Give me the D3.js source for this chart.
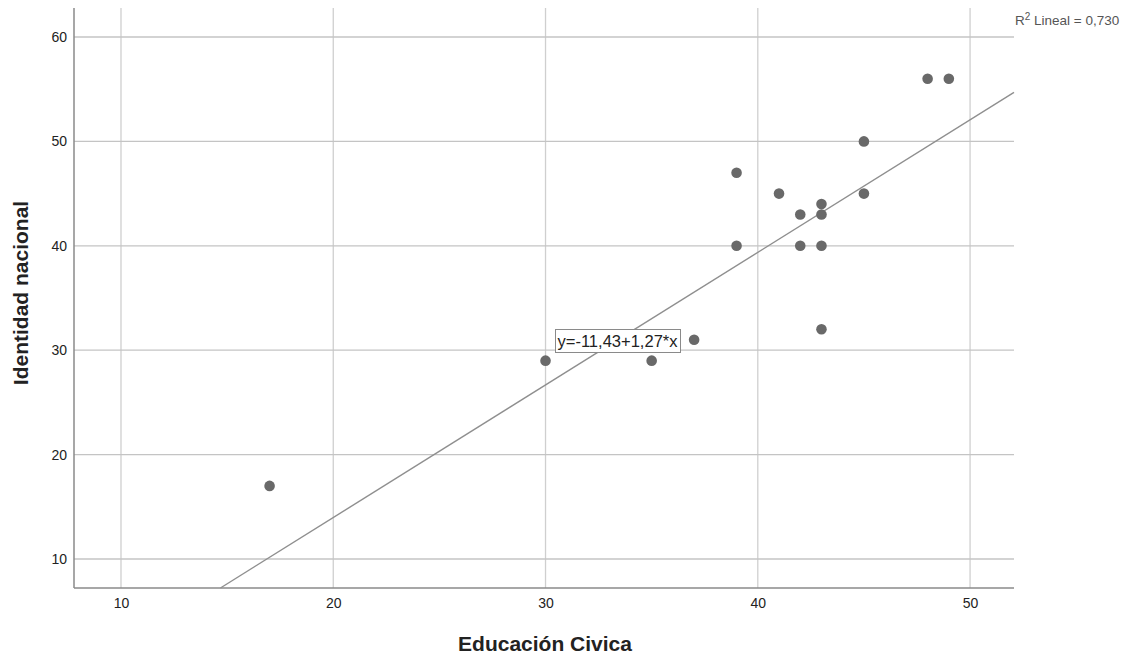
<!DOCTYPE html>
<html><head><meta charset="utf-8">
<script src="https://cdn.jsdelivr.net/npm/d3@7"></script>
<style>body{margin:0;background:#fff}svg{display:block}</style>
</head><body>
<svg id="c" width="1136" height="662"></svg>
<script>
const educacion = [17,30,35,37,39,39,41,42,42,43,43,43,43,45,45,48,49];
const identidad = [17,29,29,31,47,40,45,43,40,44,43,40,32,50,45,56,56];
const xTicks = [10,20,30,40,50];
const yTicks = [10,20,30,40,50,60];
const fitIntercept = -11.43, fitSlope = 1.27;
const fitLabel = "y=-11,43+1,27*x";
const r2Value = "0,730";
const xTitle = "Educación Civica", yTitle = "Identidad nacional";

const svg = d3.select("#c");
const L=74, R=1014, T=8, B=588;
const x = d3.scaleLinear().domain([7.786,52.07]).range([L,R]);
const y = d3.scaleLinear().domain([7.22,62.78]).range([B,T]);
const font = "'Liberation Sans', Arial, sans-serif";

// grid
svg.append("g").selectAll("line").data(xTicks).join("line")
  .attr("x1",d=>x(d)).attr("x2",d=>x(d)).attr("y1",T).attr("y2",B)
  .attr("stroke","#cfcfcf").attr("stroke-width",1.3);
svg.append("g").selectAll("line").data(yTicks).join("line")
  .attr("x1",L).attr("x2",R).attr("y1",d=>y(d)).attr("y2",d=>y(d))
  .attr("stroke","#c4c4c4").attr("stroke-width",1.3);

// axes
const xa = svg.append("g").attr("transform",`translate(0,${B})`)
  .call(d3.axisBottom(x).tickValues(xTicks).tickSize(0).tickPadding(10));
const ya = svg.append("g").attr("transform",`translate(${L},0)`)
  .call(d3.axisLeft(y).tickValues(yTicks).tickSize(0).tickPadding(7));
[xa,ya].forEach(a=>{
  a.select(".domain").attr("stroke","#8a8a8a").attr("stroke-width",1.5);
  a.selectAll("text").attr("font-family",font).attr("font-size",14).attr("fill","#222");
});
xa.select(".domain").attr("d",`M${L},0H${R}`);
ya.select(".domain").attr("d",`M0,${T}V${B}`);

// fit line
const x0 = (y.domain()[0]-fitIntercept)/fitSlope, x1 = x.domain()[1];
svg.append("line")
  .attr("x1",x(x0)).attr("y1",y(fitIntercept+fitSlope*x0))
  .attr("x2",x(x1)).attr("y2",y(fitIntercept+fitSlope*x1))
  .attr("stroke","#8f8f8f").attr("stroke-width",1.4);

// points
svg.append("g").selectAll("circle").data(educacion.map((d,i)=>[d,identidad[i]])).join("circle")
  .attr("cx",d=>x(d[0])).attr("cy",d=>y(d[1])).attr("r",5.3).attr("fill","#696969");

// fit label
const lg = svg.append("g");
lg.append("rect").attr("x",555.5).attr("y",329.5).attr("width",125).attr("height",23)
  .attr("fill","#fff").attr("stroke","#8a8a8a");
lg.append("text").attr("x",557.5).attr("y",347).attr("textLength",120).attr("lengthAdjust","spacingAndGlyphs")
  .attr("font-family",font).attr("font-size",16).attr("fill","#222").text(fitLabel);

// R2
const rt = svg.append("text").attr("x",1015).attr("y",25).attr("font-family",font)
  .attr("font-size",13.5).attr("fill","#555");
rt.append("tspan").text("R");
rt.append("tspan").attr("dy",-5).attr("font-size",10).text("2");
rt.append("tspan").attr("dy",5).text(" Lineal = "+r2Value);

// titles
svg.append("text").attr("x",545).attr("y",651).attr("text-anchor","middle")
  .attr("font-family",font).attr("font-weight","bold").attr("font-size",21).attr("fill","#222").text(xTitle);
svg.append("text").attr("transform","translate(28,293) rotate(-90)").attr("text-anchor","middle")
  .attr("font-family",font).attr("font-weight","bold").attr("font-size",21).attr("fill","#222").text(yTitle);
</script>
</body></html>
